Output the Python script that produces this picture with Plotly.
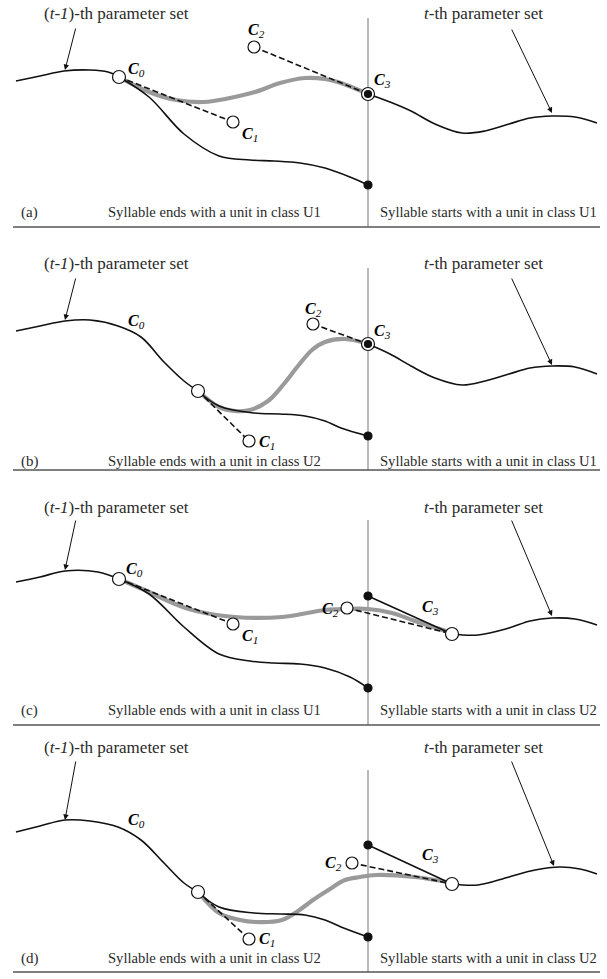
import plotly.graph_objects as go

# ---- geometry of the four panels (canvas units, y grows downward) ----
PANEL_IDS = ["(a)", "(b)", "(c)", "(d)"]
LEFT_TEXT = ["Syllable ends with a unit in class U1",
             "Syllable ends with a unit in class U2",
             "Syllable ends with a unit in class U1",
             "Syllable ends with a unit in class U2"]
RIGHT_TEXT = ["Syllable starts with a unit in class U1",
              "Syllable starts with a unit in class U1",
              "Syllable starts with a unit in class U2",
              "Syllable starts with a unit in class U2"]
TITLE_Y = [13, 263, 507, 747]
CAPTION_Y = [212, 461, 710, 958]
RULE_Y = [227, 470, 725, 972]
DIVIDER_TOP = [18, 268, 520, 770]
BOUNDARY_X = 368

# ---- panel (a) ----
A_PRE = [(16, 81), (40, 76), (64, 71), (90, 70), (108, 72), (119, 77)]
A_LOW = [(119, 77), (149, 97), (184, 134), (219, 156), (250, 160), (274, 161),
         (300, 163), (325, 168), (350, 177), (368, 185)]
A_GRAY = [(119, 77), (149, 92), (176, 100), (204, 102), (230, 98), (255, 92),
          (280, 83), (305, 78), (325, 79), (341, 83), (368, 94)]
A_POST = [(368, 94), (390, 102), (411, 111), (435, 124), (462, 133), (485, 131),
          (509, 124), (530, 118), (552, 116), (575, 117), (597, 123)]
A_CTRL = [(119, 77), (233, 122), (254, 47), (368, 94)]

# ---- panel (b) ----
B_PRE = [(16, 331), (40, 326), (65, 321), (90, 320), (118, 326), (141, 337),
         (164, 362), (184, 381), (198, 391)]
B_LOW = [(198, 391), (219, 406), (254, 413), (280, 414), (305, 416), (325, 421),
         (341, 428), (368, 436)]
B_GRAY = [(198, 391), (219, 407), (235, 411), (250, 410), (268, 401), (283, 385),
          (298, 366), (312, 350), (325, 342), (345, 339), (368, 344)]
B_POST = [(368, 344), (390, 354), (411, 366), (435, 378), (462, 385), (485, 381),
          (509, 374), (530, 368), (552, 366), (575, 367), (597, 374)]
B_CTRL = [(198, 391), (249, 441), (313, 324), (368, 344)]

# ---- panel (c) ----
C_PRE = [(16, 582), (40, 577), (65, 571), (98, 572), (119, 579)]
C_LOW = [(119, 579), (149, 594), (184, 627), (219, 654), (250, 661), (274, 663),
         (300, 664), (325, 668), (350, 677), (368, 688)]
C_GRAY = [(119, 579), (149, 592), (175, 604), (196, 611), (235, 617), (282, 617),
          (325, 610), (346, 609), (368, 609), (392, 613), (415, 621), (452, 633)]
C_POST = [(452, 634), (478, 635), (509, 628), (530, 621), (552, 618), (575, 619),
          (597, 625)]
C_CTRL = [(119, 579), (233, 624), (347, 608), (452, 634)]
C_START = [(368, 596), (452, 634)]

# ---- panel (d) ----
D_PRE = [(16, 832), (40, 826), (65, 820), (90, 821), (118, 827), (141, 840),
         (164, 863), (184, 883), (198, 892)]
D_LOW = [(198, 892), (219, 907), (254, 913), (280, 914), (305, 915), (325, 920),
         (341, 927), (368, 937)]
D_GRAY = [(198, 892), (219, 913), (240, 920), (255, 922), (282, 920), (298, 911),
          (313, 900), (330, 889), (345, 880), (360, 877), (376, 875), (415, 877),
          (452, 883)]
D_POST = [(452, 884), (478, 885), (509, 877), (535, 870), (560, 867), (580, 869),
          (597, 874)]
D_CTRL = [(198, 892), (249, 939), (352, 863), (452, 884)]
D_START = [(368, 845), (452, 884)]

# label anchors for C0..C3 in each panel
A_LABELS = [(136, 69), (250, 134), (256, 30), (382, 80)]
B_LABELS = [(136, 321), (267, 442), (313, 309), (382, 331)]
C_LABELS = [(134, 569), (250, 636), (330, 609), (430, 607)]
D_LABELS = [(136, 820), (267, 939), (333, 863), (430, 855)]

# arrows from the parameter-set titles to the curves: (tail, head)
LEFT_ARROWS = [((76, 27), (65, 70)), ((76, 277), (65, 320)),
               ((76, 519), (65, 570)), ((76, 760), (65, 820))]
RIGHT_ARROWS = [((511, 28), (552, 113)), ((511, 277), (552, 365)),
                ((511, 519), (552, 616)), ((511, 760), (554, 866))]

BLACK = "#111111"
GRAY = "#9a9a9a"
TEXT = "#2a2a2a"
SERIF = "Liberation Serif"

fig = go.Figure()


def xs(pts):
    return [p[0] for p in pts]


def ys(pts):
    return [p[1] for p in pts]


def curve(pts, color=BLACK, width=1.6, dash="solid", smooth=True):
    fig.add_trace(go.Scatter(
        x=xs(pts), y=ys(pts), mode="lines",
        line=dict(color=color, width=width, dash=dash,
                  shape="spline" if smooth else "linear", smoothing=1.0),
        hoverinfo="skip", showlegend=False))


def dots(pts, size, fill, edge=BLACK):
    fig.add_trace(go.Scatter(
        x=xs(pts), y=ys(pts), mode="markers",
        marker=dict(size=size, color=fill, line=dict(color=edge, width=1.2)),
        hoverinfo="skip", showlegend=False))


def c_label(pos, idx):
    fig.add_annotation(
        x=pos[0], y=pos[1], xref="x", yref="y", showarrow=False,
        text=f"<b><i>C</i></b><sub><i>{idx}</i></sub>",
        font=dict(family=SERIF, size=16, color="black"))


DASH = "6px,3px"

# gray dividers and rules first so curves sit on top
for i in range(4):
    curve([(BOUNDARY_X, DIVIDER_TOP[i]), (BOUNDARY_X, RULE_Y[i])],
          color="#a8a8a8", width=1.6, smooth=False)
    curve([(13, RULE_Y[i]), (600, RULE_Y[i])], color="#555555", width=1.6,
          smooth=False)

# (a) and (b): the unit on the right joins at the boundary
for pre, low, gray, post, ctrl, labels in [
        (A_PRE, A_LOW, A_GRAY, A_POST, A_CTRL, A_LABELS),
        (B_PRE, B_LOW, B_GRAY, B_POST, B_CTRL, B_LABELS)]:
    curve(gray, color=GRAY, width=4.2)
    curve(pre)
    curve(low)
    curve(post)
    curve([ctrl[0], ctrl[1]], dash=DASH, smooth=False)
    curve([ctrl[2], ctrl[3]], dash=DASH, smooth=False)
    dots([low[-1]], 8, BLACK)
    dots([ctrl[3]], 13, "white")
    dots([ctrl[3]], 7, BLACK)
    dots([ctrl[1], ctrl[2]], 12, "white")
    for k, p in enumerate(labels):
        c_label(p, k)

dots([A_CTRL[0]], 13, "white")
dots([B_CTRL[0]], 13, "white")

# (c) and (d): the right unit starts later, a straight lead-in from the boundary
for pre, low, gray, post, ctrl, start, labels in [
        (C_PRE, C_LOW, C_GRAY, C_POST, C_CTRL, C_START, C_LABELS),
        (D_PRE, D_LOW, D_GRAY, D_POST, D_CTRL, D_START, D_LABELS)]:
    curve(gray, color=GRAY, width=4.2)
    curve(pre)
    curve(low)
    curve(post)
    curve(start, smooth=False)
    curve([ctrl[0], ctrl[1]], dash=DASH, smooth=False)
    curve([ctrl[2], ctrl[3]], dash=DASH, smooth=False)
    dots([low[-1], start[0]], 8, BLACK)
    dots([ctrl[0], ctrl[3]], 13, "white")
    dots([ctrl[1], ctrl[2]], 12, "white")
    for k, p in enumerate(labels):
        c_label(p, k)

# titles, arrows and captions
for i in range(4):
    fig.add_annotation(x=116, y=TITLE_Y[i], xref="x", yref="y", showarrow=False,
                       text="(<i>t-1</i>)-th parameter set",
                       font=dict(family=SERIF, size=17, color=TEXT))
    fig.add_annotation(x=483, y=TITLE_Y[i], xref="x", yref="y", showarrow=False,
                       text="<i>t</i>-th parameter set",
                       font=dict(family=SERIF, size=17, color=TEXT))
    for tail, head in (LEFT_ARROWS[i], RIGHT_ARROWS[i]):
        fig.add_annotation(x=head[0], y=head[1], ax=tail[0], ay=tail[1],
                           xref="x", yref="y", axref="x", ayref="y", text="",
                           showarrow=True, arrowhead=2, arrowsize=1.1,
                           arrowwidth=1.0, arrowcolor=BLACK, standoff=0)
    fig.add_annotation(x=19, y=CAPTION_Y[i], xref="x", yref="y", showarrow=False,
                       xanchor="left", text=PANEL_IDS[i],
                       font=dict(family=SERIF, size=15, color=TEXT))
    fig.add_annotation(x=214, y=CAPTION_Y[i], xref="x", yref="y", showarrow=False,
                       text=LEFT_TEXT[i],
                       font=dict(family=SERIF, size=14.6, color=TEXT))
    fig.add_annotation(x=488, y=CAPTION_Y[i], xref="x", yref="y", showarrow=False,
                       text=RIGHT_TEXT[i],
                       font=dict(family=SERIF, size=14.6, color=TEXT))

fig.update_xaxes(range=[0, 607], visible=False, fixedrange=True)
fig.update_yaxes(range=[979, 0], visible=False, fixedrange=True)
fig.update_layout(width=607, height=979, margin=dict(l=0, r=0, t=0, b=0),
                  plot_bgcolor="white", paper_bgcolor="white", showlegend=False)

fig.write_html("out.html")
